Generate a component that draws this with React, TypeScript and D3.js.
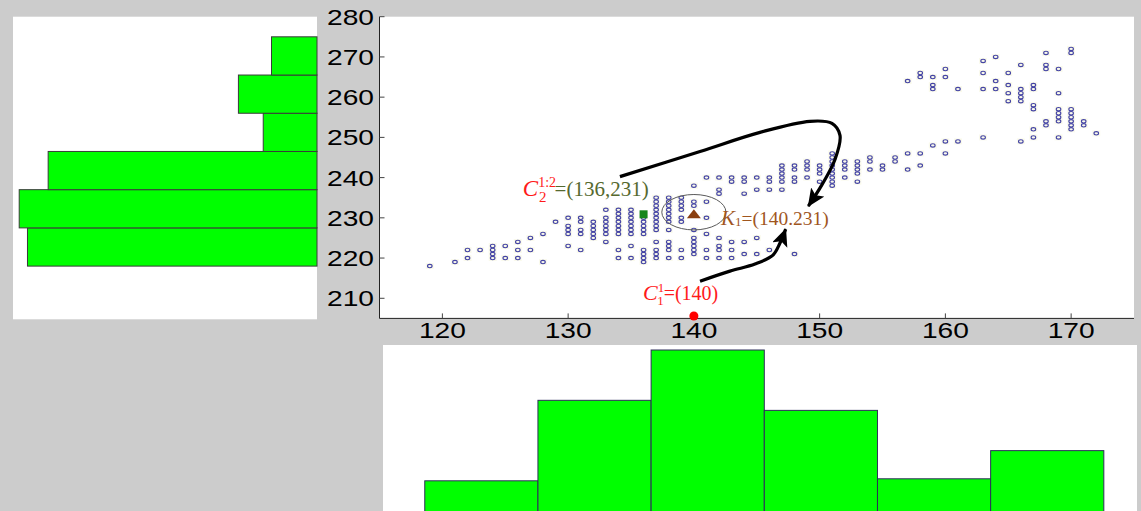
import React from "react";
import * as d3 from "d3";

const W = 1141;
const H = 511;

// scatter data, one column per x value: [x, [y, y, ...]]
const scatterCols: [number, number[]][] = [
  [119, [218]],
  [121, [219]],
  [122, [222, 220]],
  [123, [222]],
  [124, [223, 222, 221, 220]],
  [125, [223, 220]],
  [126, [224, 222, 220]],
  [127, [225, 222]],
  [128, [226, 219]],
  [129, [229]],
  [130, [230, 228, 227, 226, 223]],
  [131, [230, 229, 227, 226, 222]],
  [132, [229, 228, 227, 226, 225]],
  [133, [232, 230, 229, 228, 227, 226, 224]],
  [134, [232, 231, 230, 229, 228, 227, 226, 222, 220]],
  [135, [232, 231, 230, 229, 228, 227, 226, 223, 220]],
  [136, [230, 229, 228, 227, 226, 222, 221, 220, 219]],
  [137, [235, 234, 233, 232, 231, 230, 229, 228, 227, 224, 222, 221, 220]],
  [138, [235, 234, 233, 232, 231, 230, 229, 227, 224, 223, 222, 220]],
  [139, [235, 234, 233, 232, 230, 229, 222, 220]],
  [140, [238, 234, 233, 227, 225, 224, 223, 222, 221]],
  [141, [240, 234, 230, 226, 222, 220]],
  [142, [240, 237, 236, 225, 223, 222, 220]],
  [143, [240, 239, 224, 222, 220]],
  [144, [240, 239, 236, 224, 221]],
  [145, [240, 237, 225, 221]],
  [146, [240, 239, 237, 222]],
  [147, [243, 242, 241, 240, 239, 237]],
  [148, [243, 242, 240, 239, 221]],
  [149, [244, 243, 242, 240]],
  [150, [243, 242, 241, 239]],
  [151, [246, 245, 244, 243, 242, 241, 240, 239, 238]],
  [152, [244, 243, 242, 240]],
  [153, [244, 243, 242, 241, 239]],
  [154, [245, 244, 242]],
  [155, [243, 242]],
  [156, [245, 244]],
  [157, [264, 246, 242]],
  [158, [266, 265, 246, 243]],
  [159, [265, 263, 262, 248]],
  [160, [267, 265, 249, 246]],
  [161, [262, 249]],
  [163, [269, 266, 262, 250]],
  [164, [270, 264, 262]],
  [165, [266, 263, 261, 259]],
  [166, [268, 262, 261, 260, 259, 249]],
  [167, [263, 262, 258, 257, 252, 250]],
  [168, [271, 268, 267, 254, 253]],
  [169, [267, 261, 257, 256, 255, 254, 250]],
  [170, [272, 271, 257, 256, 255, 254, 253, 252]],
  [171, [254, 253]],
  [172, [251]],
];

const xTicks = [120, 130, 140, 150, 160, 170];
const yTicks = [210, 220, 230, 240, 250, 260, 270, 280];

// histogram along x (bottom panel)
const xBinEdges = [118.6, 127.6, 136.6, 145.6, 154.6, 163.6, 172.6];
const xBinCounts = [15, 55, 80, 50, 16, 30];

// histogram along y (left panel), bins from bottom to top
const yBinEdges = [218, 227.5, 237, 246.5, 256, 265.5, 275];
const yBinCounts = [70, 72, 65, 13, 19, 11];

// annotations (data units)
const c2Point = [136, 231];
const k1Point = [140, 231];
const c1Point = [140, 205.6];
const kEllipse = { cx: 140, cy: 231.4, rx: 2.55, ry: 4.4 };
const c2LabelAt = [126.4, 235.5];
const k1LabelAt = [142.15, 228.2];
const c1LabelAt = [135.95, 209.5];

const arrowTop: [number, number][] = [
  [134.12, 240.25],
  [140.49, 246.5],
  [145.26, 251.25],
  [149.23, 254],
  [150.98, 253.5],
  [151.62, 250.5],
  [151.22, 244.5],
  [150.19, 238.25],
  [149.1, 232.9],
];
const arrowBottom: [number, number][] = [
  [140.49, 214.25],
  [142.87, 216.75],
  [144.86, 218.5],
  [146.29, 220.75],
  [146.85, 223.75],
  [147.3, 227.2],
];

const GRAY = "#cccccc";
const GREEN = "#00ff00";
const RED = "#ff1a1a";
const OLIVE = "#56692f";
const BROWN = "#a0561e";
const TICKFONT = "'Liberation Sans', Arial, sans-serif";
const SERIF = "'Liberation Serif', 'Times New Roman', serif";

export default function App() {
  const x = d3.scaleLinear().domain([115, 175]).range([379.5, 1134]);
  const y = d3.scaleLinear().domain([205, 280]).range([318.4, 16.7]);

  // left histogram: bar length grows leftwards from the panel edge
  const hx = d3.scaleLinear().domain([0, 73.5]).range([317, 13]);
  // bottom histogram
  const hy = d3.scaleLinear().domain([0, 80]).range([511, 350]);

  const points = scatterCols.flatMap(([px, ys]) => ys.map((py) => [px, py]));

  const line = d3
    .line<[number, number]>()
    .x((d) => x(d[0]))
    .y((d) => y(d[1]))
    .curve(d3.curveCatmullRom.alpha(0.5));

  const ex = x(kEllipse.cx);
  const ey = y(kEllipse.cy);
  const erx = x(kEllipse.cx + kEllipse.rx) - ex;
  const ery = ey - y(kEllipse.cy + kEllipse.ry);

  const kx = x(k1Point[0]);
  const ky = y(k1Point[1]);

  return (
    <svg
      width={W}
      height={H}
      style={{ position: "absolute", left: 0, top: 0 }}
    >
      <defs>
        <marker
          id="ah"
          markerUnits="userSpaceOnUse"
          markerWidth={22}
          markerHeight={18}
          refX={17}
          refY={8}
          orient="auto"
        >
          <path d="M0,0 L18,8 L0,16 L4,8 Z" fill="#000" />
        </marker>
      </defs>

      <rect x={0} y={0} width={W} height={H} fill={GRAY} />

      {/* left histogram panel */}
      <rect x={13} y={16.7} width={304} height={302.6} fill="#fff" />
      {yBinCounts.map((c, i) => {
        const top = y(yBinEdges[i + 1]);
        const bot = y(yBinEdges[i]);
        return (
          <rect
            key={"yb" + i}
            x={hx(c)}
            y={top}
            width={hx(0) - hx(c)}
            height={bot - top}
            fill={GREEN}
            stroke="#3a3a3a"
            strokeWidth={1}
          />
        );
      })}

      {/* bottom histogram panel */}
      <rect x={383} y={345} width={754} height={H - 345} fill="#fff" />
      {xBinCounts.map((c, i) => {
        const l = x(xBinEdges[i]);
        const r = x(xBinEdges[i + 1]);
        return (
          <rect
            key={"xb" + i}
            x={l}
            y={hy(c)}
            width={r - l}
            height={H + 2 - hy(c)}
            fill={GREEN}
            stroke="#2e2e5a"
            strokeWidth={1}
          />
        );
      })}

      {/* scatter axes */}
      <rect
        x={x(115)}
        y={y(280)}
        width={x(175) - x(115)}
        height={y(205) - y(280)}
        fill="#fff"
      />
      <line x1={x(115)} x2={x(115)} y1={y(280)} y2={y(205)} stroke="#222" />
      <line x1={x(115)} x2={x(175)} y1={y(205)} y2={y(205)} stroke="#222" />
      {yTicks.map((t) => (
        <g key={"yt" + t}>
          <line
            x1={x(115)}
            x2={x(115) + 5}
            y1={y(t)}
            y2={y(t)}
            stroke="#444"
          />
          <text
            x={374}
            y={y(t) + 8}
            textAnchor="end"
            fontFamily={TICKFONT}
            fontSize={22}
            textLength={47}
            lengthAdjust="spacingAndGlyphs"
            fill="#000"
          >
            {t}
          </text>
        </g>
      ))}
      {xTicks.map((t) => (
        <g key={"xt" + t}>
          <line
            x1={x(t)}
            x2={x(t)}
            y1={y(205)}
            y2={y(205) - 5}
            stroke="#444"
          />
          <text
            x={x(t) - 23.5}
            y={338}
            fontFamily={TICKFONT}
            fontSize={22}
            textLength={47}
            lengthAdjust="spacingAndGlyphs"
            fill="#000"
          >
            {t}
          </text>
        </g>
      ))}

      {/* scatter points */}
      {points.map(([px, py], i) => (
        <rect
          key={"bg" + i}
          x={x(px) - 4}
          y={y(py) - 3}
          width={8}
          height={6}
          fill="#fafaec"
        />
      ))}
      {points.map(([px, py], i) => (
        <ellipse
          key={"p" + i}
          cx={x(px)}
          cy={y(py)}
          rx={2.3}
          ry={1.7}
          fill="none"
          stroke="#4444a4"
          strokeWidth={1.1}
        />
      ))}

      {/* ellipse around K1 */}
      <ellipse
        cx={ex}
        cy={ey}
        rx={erx}
        ry={ery}
        fill="none"
        stroke="#5a5a5a"
        strokeWidth={1}
      />

      {/* centre markers */}
      <rect
        x={x(c2Point[0]) - 4}
        y={y(c2Point[1]) - 3.5}
        width={8}
        height={8}
        fill="#16861c"
      />
      <path
        d={`M${kx - 7},${ky + 4.5} L${kx},${ky - 4.5} L${kx + 7},${ky + 4.5} Z`}
        fill="#8b3f10"
      />
      <circle cx={x(c1Point[0])} cy={y(c1Point[1])} r={4.5} fill="#ff0000" />

      {/* arrows */}
      <path
        d={line(arrowTop) || ""}
        fill="none"
        stroke="#000"
        strokeWidth={3.2}
        markerEnd="url(#ah)"
      />
      <path
        d={line(arrowBottom) || ""}
        fill="none"
        stroke="#000"
        strokeWidth={3.2}
        markerEnd="url(#ah)"
      />

      {/* labels */}
      <text
        x={x(c2LabelAt[0])}
        y={y(c2LabelAt[1])}
        fontFamily={SERIF}
        fontSize={21}
      >
        <tspan fill={RED} fontStyle="italic" fontSize={23}>
          C
        </tspan>
        <tspan fill={RED} fontSize={14} dy={-9}>
          1:2
        </tspan>
        <tspan fill={RED} fontSize={15} dx={-17} dy={15}>
          2
        </tspan>
        <tspan fill={OLIVE} dx={8} dy={-6}>
          =(136,231)
        </tspan>
      </text>

      <text
        x={x(k1LabelAt[0])}
        y={y(k1LabelAt[1])}
        fontFamily={SERIF}
        fontSize={19.5}
        fill={BROWN}
      >
        <tspan fontStyle="italic" fontSize={21}>
          K
        </tspan>
        <tspan fontSize={13} dy={1}>
          1
        </tspan>
        <tspan dy={-1}>=(140.231)</tspan>
      </text>

      <text
        x={x(c1LabelAt[0])}
        y={y(c1LabelAt[1])}
        fontFamily={SERIF}
        fontSize={20}
        fill={RED}
      >
        <tspan fontStyle="italic" fontSize={22}>
          C
        </tspan>
        <tspan fontSize={13} dy={-8}>
          1
        </tspan>
        <tspan fontSize={13} dx={-6.5} dy={13}>
          1
        </tspan>
        <tspan dy={-5}>=(140)</tspan>
      </text>
    </svg>
  );
}
